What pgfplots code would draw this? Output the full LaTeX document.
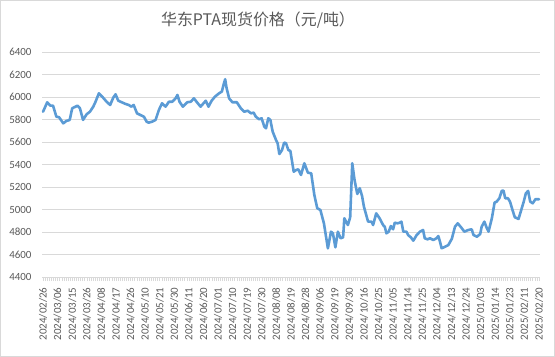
\documentclass[border=0pt]{standalone}
\usepackage{pgfplots}
\pgfplotsset{compat=1.18}
\usepackage{fontspec}
\setmainfont{Carlito}
\newfontfamily\cjk{Noto Sans CJK SC}
\definecolor{linecol}{HTML}{5B9BD5}
\definecolor{txtcol}{HTML}{595959}
\definecolor{gridcol}{HTML}{D9D9D9}
\begin{document}
\begin{tikzpicture}
\useasboundingbox (0,0) rectangle (555bp,357bp);
\node[text=txtcol, font=\cjk\fontsize{16}{18}\selectfont] at (258bp,337bp) {华东PTA现货价格（元/吨）};
\begin{axis}[
  at={(42bp,80bp)}, anchor=south west,
  scale only axis, width=498bp, height=225bp,
  xmin=-0.5, xmax=238.5, ymin=4400, ymax=6400,
  ytick={4400,4600,...,6400},
  xtick={0,7,...,238},
  minor x tick num=6,
  xticklabels={2024/02/26,2024/03/06,2024/03/15,2024/03/26,2024/04/08,2024/04/17,2024/04/26,2024/05/10,2024/05/21,2024/05/30,2024/06/11,2024/06/20,2024/07/01,2024/07/10,2024/07/19,2024/07/30,2024/08/08,2024/08/19,2024/08/28,2024/09/06,2024/09/19,2024/09/30,2024/10/16,2024/10/25,2024/11/05,2024/11/14,2024/11/25,2024/12/04,2024/12/13,2024/12/24,2025/01/03,2025/01/14,2025/01/23,2025/02/11,2025/02/20},
  xticklabel style={rotate=90, anchor=east, font=\fontsize{11}{12}\selectfont, text=txtcol, xshift=-3bp},
  yticklabel style={font=\fontsize{11}{12}\selectfont, text=txtcol, xshift=-3bp},
  /pgf/number format/assume math mode=true,
  /pgf/number format/1000 sep={},
  ymajorgrids, grid style={gridcol, line width=0.75bp},
  axis line style={draw=none},
  axis x line*=bottom,
  x axis line style={draw=gridcol, line width=0.75bp},
  tick align=outside,
  major tick length=4bp, minor tick length=4bp,
  xtick style={draw=gridcol, line width=0.5bp},
  minor tick style={draw=gridcol, line width=0.5bp},
  ytick style={draw=none},
  clip=false,
]
\addplot[linecol, line width=2.6bp, line join=round, line cap=round] coordinates {
(0,5869)(2.0,5953)(3.5,5923)(4.8,5923)(6.4,5825)(7.7,5820)(9.7,5766)(11.2,5787)(12.8,5796)(14.0,5900)
(15.6,5914)(16.5,5923)(17.7,5900)(19.2,5796)(20.9,5846)(22.5,5869)(24.1,5914)(25.2,5958)(26.8,6033)(28.4,6003)
(30.5,5958)(32.2,5929)(33.7,5994)(34.8,6024)(36.1,5967)(37.8,5953)(39.6,5938)(41.1,5929)(42.4,5914)(43.5,5929)
(45.1,5855)(46.7,5840)(48.4,5825)(49.7,5781)(50.7,5772)(52.4,5781)(54.0,5796)(55.6,5885)(57.1,5944)(58.8,5914)
(60.4,5958)(62.0,5958)(63.6,5988)(64.5,6018)(65.5,5958)(67.1,5914)(69.2,5953)(70.9,5958)(72.4,5988)(74.0,5950)
(75.6,5914)(77.3,5950)(78.1,5967)(79.4,5914)(80.9,5967)(82.5,6003)(84.5,6033)(85.8,6048)(86.6,6107)(87.4,6158)
(88.1,6078)(89.3,5988)(90.9,5953)(93.0,5953)(94.9,5900)(96.5,5869)(98.2,5878)(99.8,5855)(101.1,5861)(102.1,5825)
(103.7,5802)(104.9,5811)(106.2,5736)(107.0,5722)(108.1,5811)(109.1,5796)(110.2,5692)(111.8,5618)(112.6,5588)(113.4,5493)
(114.7,5529)(115.7,5594)(116.6,5590)(117.7,5529)(118.7,5520)(120.3,5336)(121.5,5351)(122.5,5357)(123.8,5307)(125.4,5411)
(127.1,5327)(128.7,5322)(130.2,5129)(131.6,5011)(133.1,4996)(134.8,4877)(136.7,4655)(138.2,4803)(139.1,4789)(140.3,4664)
(141.5,4803)(142.8,4744)(144.0,4753)(144.6,4922)(146.3,4862)(147.4,4931)(148.4,5411)(149.5,5262)(150.8,5138)(152.0,5189)
(153.1,5120)(154.0,5025)(155.1,4951)(156.0,4892)(157.6,4892)(158.4,4862)(159.9,4966)(161.5,4922)(163.2,4862)(164.0,4847)
(164.8,4788)(165.9,4803)(166.9,4853)(168.0,4824)(168.8,4883)(170.1,4877)(171.2,4883)(172.0,4892)(172.9,4803)(174.4,4803)
(175.2,4773)(176.5,4753)(177.7,4723)(179.3,4773)(180.9,4803)(182.4,4818)(183.2,4744)(184.5,4735)(185.7,4744)(187.3,4729)
(188.8,4744)(189.7,4764)(190.5,4714)(191.3,4655)(192.9,4669)(194.5,4684)(196.2,4740)(197.7,4847)(199.0,4877)(200.6,4842)
(202.2,4803)(204.1,4818)(205.7,4824)(206.6,4773)(208.2,4758)(209.8,4782)(210.5,4847)(211.8,4892)(213.0,4833)(213.8,4803)
(215.4,4922)(216.7,5061)(217.7,5070)(219.0,5100)(220.2,5167)(221.0,5167)(221.8,5100)(223.1,5100)(224.1,5070)(225.3,4996)
(226.4,4931)(228.2,4916)(229.5,4996)(230.7,5070)(231.7,5144)(232.8,5165)(233.8,5070)(235.0,5055)(236.3,5091)(237.9,5091)(238,5091)
};
\end{axis}
\draw[gridcol, line width=0.75bp] (0.5bp,0.5bp) rectangle (554.5bp,356.5bp);
\end{tikzpicture}
\end{document}
